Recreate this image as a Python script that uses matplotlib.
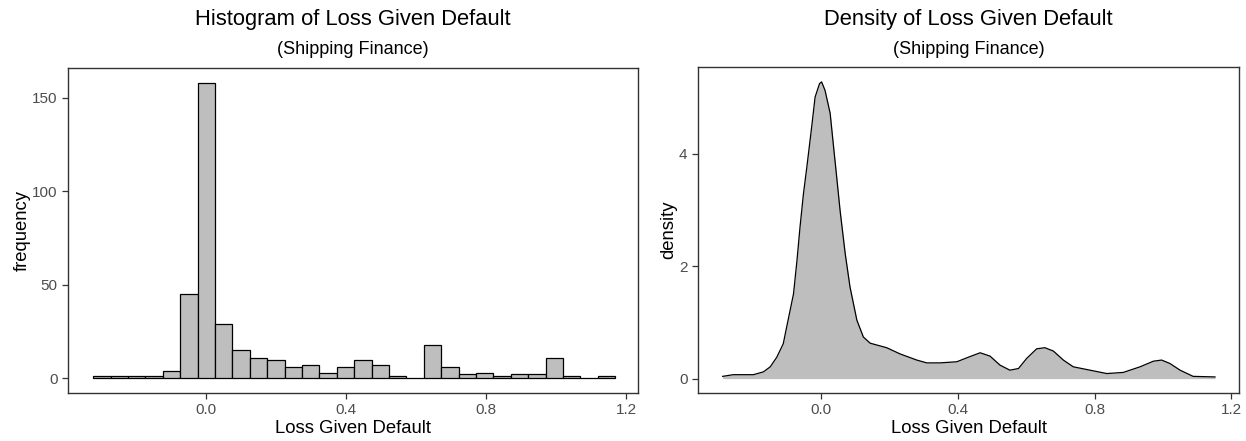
import matplotlib.pyplot as plt

plt.rcParams['font.family'] = ['Liberation Sans', 'DejaVu Sans']

# histogram: bin centres (in units of bin width) and counts
bin_width = 0.0497
bin_index = list(range(-6, 24))
counts = [1, 1, 1, 1, 4, 45, 158, 29, 15, 11,
          10, 6, 7, 3, 6, 10, 7, 1, 0, 18,
          6, 2, 3, 1, 2, 2, 11, 1, 0, 1]

# density curve
dens_x = [-0.286, -0.255, -0.196, -0.167, -0.147, -0.128, -0.109, -0.099, -0.079, -0.069,
          -0.060, -0.050, -0.040, -0.026, -0.016, -0.003, 0.003, 0.013, 0.028, 0.037,
          0.047, 0.057, 0.072, 0.086, 0.106, 0.125, 0.145, 0.193, 0.232, 0.281,
          0.310, 0.349, 0.398, 0.427, 0.466, 0.495, 0.524, 0.553, 0.578, 0.602,
          0.631, 0.655, 0.680, 0.709, 0.738, 0.787, 0.836, 0.884, 0.933, 0.972,
          0.996, 1.020, 1.050, 1.088, 1.152]
dens_y = [0.04, 0.07, 0.07, 0.12, 0.21, 0.38, 0.62, 0.92, 1.51, 2.10,
          2.70, 3.29, 3.77, 4.48, 5.01, 5.25, 5.28, 5.13, 4.72, 4.18,
          3.59, 2.99, 2.22, 1.63, 1.04, 0.74, 0.63, 0.55, 0.44, 0.33,
          0.28, 0.28, 0.30, 0.37, 0.46, 0.40, 0.24, 0.15, 0.18, 0.36,
          0.53, 0.55, 0.49, 0.33, 0.21, 0.15, 0.09, 0.11, 0.21, 0.31,
          0.33, 0.27, 0.15, 0.04, 0.03]

W, H = 1246, 441
fig = plt.figure(figsize=(W / 100, H / 100), dpi=100)

def px_axes(x0, y0, x1, y1):
    return fig.add_axes([x0 / W, 1 - y1 / H, (x1 - x0) / W, (y1 - y0) / H])

tick_col = '#4D4D4D'

def style(ax):
    for s in ax.spines.values():
        s.set_color('#333333')
        s.set_linewidth(1.0)
    ax.tick_params(colors='#333333', labelsize=11, length=4, width=0.9, labelcolor=tick_col)

# left: histogram
ax1 = px_axes(68, 68, 638, 393)
centres = [i * bin_width for i in bin_index]
ax1.bar(centres, counts, width=bin_width, color='#BEBEBE', edgecolor='black', linewidth=0.9)
ax1.set_xlim(-0.395, 1.233)
ax1.set_ylim(-7.9, 165.8)
ax1.set_xticks([0.0, 0.4, 0.8, 1.2])
ax1.set_xticklabels(['0.0', '0.4', '0.8', '1.2'])
ax1.set_yticks([0, 50, 100, 150])
ax1.set_xlabel('Loss Given Default', fontsize=13.3, labelpad=2)
ax1.set_ylabel('frequency', fontsize=13.3, labelpad=1)
style(ax1)

# right: density
ax2 = px_axes(698, 67, 1239, 393)
ax2.fill_between(dens_x, dens_y, 0, color='#BEBEBE', linewidth=0)
ax2.plot(dens_x, dens_y, color='black', linewidth=0.9)
ax2.set_xlim(-0.358, 1.222)
ax2.set_ylim(-0.256, 5.545)
ax2.set_xticks([0.0, 0.4, 0.8, 1.2])
ax2.set_xticklabels(['0.0', '0.4', '0.8', '1.2'])
ax2.set_yticks([0, 2, 4])
ax2.set_xlabel('Loss Given Default', fontsize=13.3, labelpad=2)
ax2.set_ylabel('density', fontsize=13.3, labelpad=1)
style(ax2)

# titles
fig.text((68 + 638) / 2 / W, 1 - 19 / H, 'Histogram of Loss Given Default', fontsize=15.8, ha='center', va='center')
fig.text((68 + 638) / 2 / W, 1 - 49 / H, '(Shipping Finance)', fontsize=13, ha='center', va='center')
fig.text((698 + 1239) / 2 / W, 1 - 19 / H, 'Density of Loss Given Default', fontsize=15.8, ha='center', va='center')
fig.text((698 + 1239) / 2 / W, 1 - 49 / H, '(Shipping Finance)', fontsize=13, ha='center', va='center')

fig.savefig('out.png', dpi=100)
